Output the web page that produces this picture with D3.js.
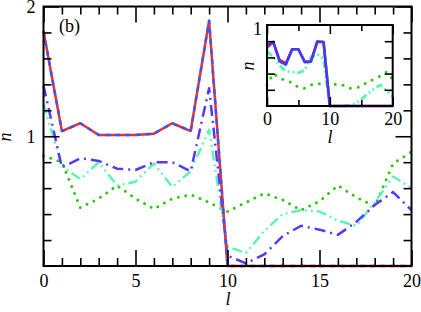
<!DOCTYPE html>
<html>
<head>
<meta charset="utf-8">
<script src="https://cdn.jsdelivr.net/npm/d3@7"></script>
<style>
  body { margin: 0; background: #fff; }
  svg { display: block; }
  svg text { font-family: "Liberation Serif", "DejaVu Serif", serif; }
  .tick line { stroke: #000; stroke-width: 1.6; }
  .domain { display: none; }
</style>
</head>
<body>
<div id="chart"></div>
<script>
// site index l
const sites = [0, 1, 2, 3, 4, 5, 6, 7, 8, 9, 10, 11, 12, 13, 14, 15, 16, 17, 18, 19, 20]

// main panel, density n per site
const mainRed = [1.81, 1.04, 1.10, 1.01, 1.01, 1.01, 1.02, 1.10, 1.04, 1.89, 0, 0, 0, 0, 0, 0, 0, 0, 0, 0, 0]
const mainBlue = [1.81, 1.04, 1.10, 1.01, 1.01, 1.01, 1.02, 1.10, 1.04, 1.89, 0, 0, 0, 0, 0, 0, 0, 0, 0, 0, 0]
const mainPurple = [1.39, 0.76, 0.83, 0.81, 0.75, 0.74, 0.80, 0.80, 0.73, 1.37, 0.08, 0.02, 0.09, 0.23, 0.31, 0.28, 0.24, 0.34, 0.47, 0.57, 0.43]
const mainAqua = [1.25, 0.77, 0.67, 0.80, 0.62, 0.65, 0.79, 0.61, 0.73, 1.05, 0.15, 0.10, 0.27, 0.40, 0.43, 0.42, 0.35, 0.31, 0.49, 0.69, 0.60]
const mainGreen = [0.85, 0.80, 0.45, 0.52, 0.62, 0.52, 0.44, 0.52, 0.55, 0.49, 0.42, 0.49, 0.56, 0.51, 0.43, 0.50, 0.62, 0.53, 0.46, 0.79, 0.88]

// inset panel
const insetRed = [0.72, 0.79, 0.57, 0.53, 0.70, 0.70, 0.55, 0.55, 0.80, 0.79, 0, 0, 0, 0, 0, 0, 0, 0, 0, 0, 0]
const insetBlue = [0.75, 0.79, 0.55, 0.51, 0.70, 0.70, 0.54, 0.55, 0.79, 0.79, 0, 0, 0, 0, 0, 0, 0, 0, 0, 0, 0]
const insetAqua = [0.68, 0.60, 0.50, 0.43, 0.42, 0.41, 0.44, 0.60, 0.64, 0.58, 0, 0, 0, 0.01, 0.03, 0.08, 0.15, 0.21, 0.26, 0.19, 0.12]
const insetGreen = [0.26, 0.40, 0.35, 0.31, 0.29, 0.23, 0.22, 0.26, 0.28, 0.26, 0.26, 0.27, 0.26, 0.22, 0.22, 0.24, 0.30, 0.33, 0.37, 0.42, 0.33]

// ticks
const xMajor = [0, 5, 10, 15, 20]
const xMinor = [1, 2, 3, 4, 6, 7, 8, 9, 11, 12, 13, 14, 16, 17, 18, 19]
const yMajor = [1, 2]
const yMinor = [0.2, 0.4, 0.6, 0.8, 1.2, 1.4, 1.6, 1.8]
const insetXMajor = [0, 10, 20]
const insetXMinor = [5, 15]
const insetYMinor = [0.2, 0.4, 0.6, 0.8]

const width = 421
const height = 312
const fontSize = 18

const svg = d3.select("#chart").append("svg")
  .attr("width", width)
  .attr("height", height)

function panel(g, x, y, series, opts) {
  const line = d3.line()
    .x((d, i) => x(sites[i]))
    .y((d) => y(d))

  g.append("rect")
    .attr("x", x.range()[0]).attr("y", y.range()[1])
    .attr("width", x.range()[1] - x.range()[0])
    .attr("height", y.range()[0] - y.range()[1])
    .attr("fill", "#fff")

  series.forEach((s) => {
    g.append("path")
      .datum(s.values)
      .attr("d", line)
      .attr("fill", "none")
      .attr("stroke", s.color)
      .attr("stroke-width", s.width || 2.5)
      .attr("stroke-dasharray", s.dash || null)
      .attr("stroke-linecap", s.cap || "butt")
      .attr("stroke-linejoin", "round")
  })

  const [y0, y1] = y.domain()
  const [x0, x1] = x.domain()
  const fmt = d3.format("d")

  // ticks point inward, on all four sides
  g.append("g").attr("transform", `translate(0,${y(y0)})`)
    .call(d3.axisBottom(x).tickValues(opts.xMinor).tickSize(-opts.minor).tickFormat(""))
  g.append("g").attr("transform", `translate(0,${y(y1)})`)
    .call(d3.axisTop(x).tickValues(opts.xMinor).tickSize(-opts.minor).tickFormat(""))
  g.append("g").attr("transform", `translate(0,${y(y1)})`)
    .call(d3.axisTop(x).tickValues(opts.xMajor).tickSize(-opts.major).tickFormat(""))
  g.append("g").attr("transform", `translate(0,${y(y0)})`)
    .call(d3.axisBottom(x).tickValues(opts.xMajor).tickSize(-opts.major).tickPadding(opts.xPad).tickFormat(fmt))
    .attr("font-size", fontSize).attr("font-family", null)

  g.append("g").attr("transform", `translate(${x(x0)},0)`)
    .call(d3.axisLeft(y).tickValues(opts.yMinor).tickSize(-opts.yminor).tickFormat(""))
  g.append("g").attr("transform", `translate(${x(x1)},0)`)
    .call(d3.axisRight(y).tickValues(opts.yMinor).tickSize(-opts.yminor).tickFormat(""))
  g.append("g").attr("transform", `translate(${x(x1)},0)`)
    .call(d3.axisRight(y).tickValues(opts.yMajor).tickSize(-opts.ymajor).tickFormat(""))
  g.append("g").attr("transform", `translate(${x(x0)},0)`)
    .call(d3.axisLeft(y).tickValues(opts.yMajor).tickSize(-opts.ymajor).tickPadding(opts.yPad).tickFormat(fmt))
    .attr("font-size", fontSize).attr("font-family", null)
    .selectAll("text").attr("dy", opts.yDy)

  // frame
  g.append("rect")
    .attr("x", x.range()[0]).attr("y", y.range()[1])
    .attr("width", x.range()[1] - x.range()[0])
    .attr("height", y.range()[0] - y.range()[1])
    .attr("fill", "none")
    .attr("stroke", "#000")
    .attr("stroke-width", 2)

  // axis titles
  g.append("text")
    .attr("x", opts.lPos[0]).attr("y", opts.lPos[1])
    .attr("text-anchor", "middle")
    .attr("font-size", fontSize).attr("font-style", "italic")
    .text("l")
  g.append("text")
    .attr("transform", `translate(${opts.nPos[0]},${opts.nPos[1]}) rotate(-90)`)
    .attr("text-anchor", "middle")
    .attr("font-size", fontSize).attr("font-style", "italic")
    .text("n")
}

// main panel
const x = d3.scaleLinear().domain([0, 20]).range([43.5, 411.5])
const y = d3.scaleLinear().domain([0, 2]).range([266, 6.5])

panel(svg.append("g"), x, y, [
  { values: mainGreen, color: "#2ec50c", dash: "0,7.6", cap: "round", width: 3 },
  { values: mainAqua, color: "#5ef5b4", dash: "10,4,1.8,4,1.8,4" },
  { values: mainPurple, color: "#5a36ff", dash: "11,5,2,5" },
  { values: mainRed, color: "#ff2a2a" },
  { values: mainBlue, color: "#3358ff", dash: "5,5" },
], {
  xMajor, xMinor, yMajor, yMinor,
  minor: 8, major: 16, yminor: 8, ymajor: 16,
  xPad: 8, yPad: 8, yDy: "0.36em",
  lPos: [228, 305], nPos: [11, 137],
})

svg.append("text")
  .attr("x", 59).attr("y", 32)
  .attr("font-size", fontSize)
  .text("(b)")

// inset
const ix = d3.scaleLinear().domain([0, 20]).range([267, 392.7])
const iy = d3.scaleLinear().domain([0, 1]).range([106, 25])

panel(svg.append("g"), ix, iy, [
  { values: insetGreen, color: "#2ec50c", dash: "0,8", cap: "round", width: 3 },
  { values: insetAqua, color: "#5ef5b4", dash: "7,3,1.8,3,1.8,3", width: 3 },
  { values: insetRed, color: "#ff2a2a", width: 2.6 },
  { values: insetBlue, color: "#3a3cff", width: 2.6 },
], {
  xMajor: insetXMajor, xMinor: insetXMinor, yMajor: [1], yMinor: insetYMinor,
  minor: 6, major: 9, yminor: 8, ymajor: 0,
  xPad: 6, yPad: 5, yDy: "0.5em",
  lPos: [330, 143], nPos: [254, 66],
})
</script>
</body>
</html>
